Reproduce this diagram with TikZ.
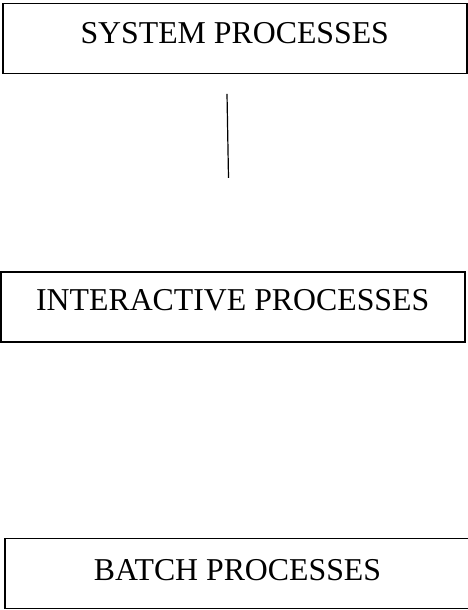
\documentclass[tikz,border=0pt]{standalone}
\usepackage{fontspec}
\setmainfont{Liberation Serif}
\usetikzlibrary{positioning}

\begin{document}
\begin{tikzpicture}[
  x=1pt, y=-1pt,
  box/.style={draw, line width=1.6pt, minimum height=70pt, inner sep=0pt, font=\fontsize{31.8}{36}\selectfont},
  link/.style={line width=1.2pt}
]
  \useasboundingbox (0,0) rectangle (468,610);
  \clip (0,0) rectangle (468,610);

  \node[box, minimum width=464pt, text height=20pt, text depth=9pt] (sys) at (234.75,38.5) {SYSTEM PROCESSES};
  \node[box, minimum width=464pt, text height=20pt, text depth=12pt] (inter) at (232.7,306.7) {INTERACTIVE PROCESSES};
  \node[box, minimum width=465pt, text height=21pt, text depth=8pt] (batch) at (237.5,573.5) {BATCH PROCESSES};

  % short stub under the top box
  \coordinate[below=19.5pt of sys, xshift=-7.75pt] (stubtop);
  \coordinate[above=93pt of inter, xshift=-4.2pt] (stubend);
  \draw[link] (stubtop) -- (stubend);
\end{tikzpicture}
\end{document}
